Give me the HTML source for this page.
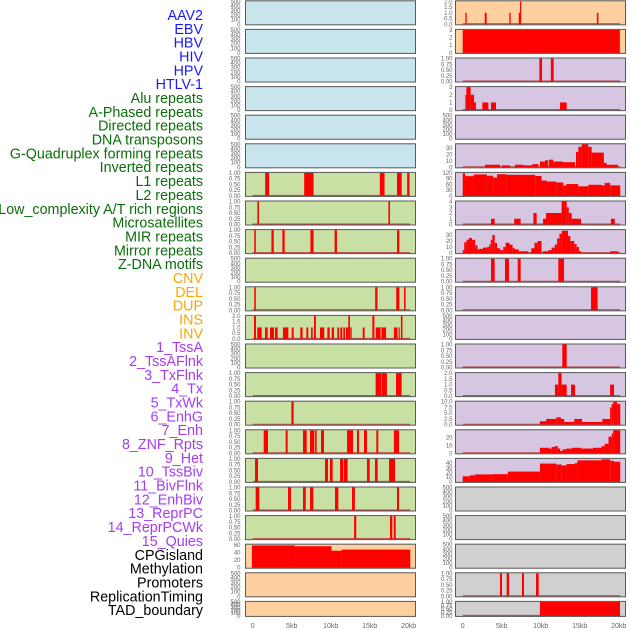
<!DOCTYPE html>
<html><head><meta charset="utf-8">
<style>
html,body{margin:0;padding:0;background:#fff;}
svg{display:block;font-family:"Liberation Sans",Arial,sans-serif;}
</style></head>
<body>
<svg id="chart" width="630" height="630" viewBox="0 0 630 630" xmlns="http://www.w3.org/2000/svg"></svg>
<script>
// ---- track names ----
const trackNames = ["AAV2","EBV","HBV","HIV","HPV","HTLV-1","Alu repeats","A-Phased repeats","Directed repeats","DNA transposons","G-Quadruplex forming repeats","Inverted repeats","L1 repeats","L2 repeats","Low_complexity A/T rich regions","Microsatellites","MIR repeats","Mirror repeats","Z-DNA motifs","CNV","DEL","DUP","INS","INV","1_TssA","2_TssAFlnk","3_TxFlnk","4_Tx","5_TxWk","6_EnhG","7_Enh","8_ZNF_Rpts","9_Het","10_TssBiv","11_BivFlnk","12_EnhBiv","13_ReprPC","14_ReprPCWk","15_Quies","CPGisland","Methylation","Promoters","ReplicationTiming","TAD_boundary"];
const trackGroups = ["virus","virus","virus","virus","virus","virus","repeat","repeat","repeat","repeat","repeat","repeat","repeat","repeat","repeat","repeat","repeat","repeat","repeat","sv","sv","sv","sv","sv","state","state","state","state","state","state","state","state","state","state","state","state","state","state","state","other","other","other","other","other"];
// ---- tick label arrays ----
const ticks500 = [0,100,200,300,400,500];
const ticks01 = [0,0.25,0.5,0.75,1];
const ticks2 = [0,0.5,1,1.5,2];
const ticks3 = [0,1,2,3];
const ticks4 = [0,1,2,3,4];
const ticks30 = [0,10,20,30];
const ticks120 = [0,30,60,90,120];
const ticks10 = [0,2.5,5,7.5,10];
const ticks20 = [0,10,20];
const ticks40 = [0,10,20,30,40];
const ticks60 = [0,20,40,60];
const xTickValues = [0,5,10,15,20];
const xTickLabels = ["0","5kb","10kb","15kb","20kb"];
// ---- segments [startKb, endKb, value] ----
const segEmpty = [];
const segAlu = [[1.6,2.1,1],[6.6,7.8,1],[16.3,16.9,1],[18.5,19.1,1],[19.8,20.1,1]];
const segAPhased = [[0.6,0.8,1],[17.4,17.6,1]];
const segDirected = [[0.2,0.4,1],[2.4,2.7,1],[3.8,4.1,1],[7.4,7.8,1],[10.5,10.8,1],[18.5,18.8,1]];
const segGQuad = [[0.2,0.4,1],[15.7,16.0,1],[18.4,18.8,1],[19.4,19.6,1]];
const segInverted = [[0.17,0.42,2],[0.59,1.15,1],[1.58,1.92,1],[2.22,2.73,1],[2.86,3.2,1],[3.88,4.57,1],[5.0,5.25,1],[6.1,6.4,1],[6.88,7.13,1],[7.48,7.69,1],[7.86,8.1,2],[8.63,9.18,1],[9.57,9.87,1],[10.13,10.43,1],[10.85,11.07,1],[11.23,11.49,1],[11.62,11.83,1],[11.96,12.26,1],[12.26,12.47,2],[12.51,12.69,1],[14.1,14.35,1],[15.34,15.6,2],[15.77,16.4,1],[16.5,17.1,1],[18.1,18.55,1],[18.7,18.85,1],[19.0,19.2,2]];
const segL2 = [[15.76,16.45,1],[16.5,17.2,1],[18.37,19.09,1]];
const segLowComplex = [[4.96,5.25,1]];
const segMicro = [[1.41,1.96,1],[4.23,4.48,1],[6.45,6.92,1],[7.35,7.9,1],[8.0,8.2,1],[8.76,9.14,1],[12.1,12.86,1],[13.37,13.63,1],[14.27,14.65,1],[15.85,16.1,1],[18.1,18.76,1]];
const segMIR = [[0.3,0.68,1],[9.27,9.65,1],[9.9,10.25,1],[11.2,11.62,1],[11.7,12.17,1],[14.65,15.0,1],[15.68,16.02,1],[17.48,18.25,1]];
const segMirror = [[0.38,0.85,1],[4.53,4.91,1],[6.45,6.8,1],[7.35,7.77,1],[10.55,10.98,1],[12.73,13.1,1],[18.5,18.76,1]];
const segZDNA = [[13.0,13.28,1],[17.6,17.9,1],[18.08,18.33,1]];
const segCNV = [[-0.1,5.43,59],[5.43,10.1,57],[10.1,11.4,45],[11.4,20.2,48]];
const segINS = [[0.34,0.51,1],[2.82,3.07,1],[5.98,6.15,1],[7.18,7.35,1],[7.35,7.5,2],[17.2,17.4,1]];
const segINV = [[0,20.15,3]];
const segTssA = [[9.83,10.17,1],[11.3,11.66,1]];
const segTssAFlnk = [[0.34,0.47,2],[0.47,1.02,3],[1.02,1.45,2],[1.45,1.7,1],[2.52,3.29,1],[3.63,4.27,1],[12.47,13.33,1]];
const segTx = [[2.86,4.78,4],[5.0,6.06,3],[6.7,7.77,4],[7.77,8.93,3],[8.93,9.7,5],[9.91,10.55,9],[10.55,10.97,11],[11.06,11.6,12],[11.6,12.9,9],[12.9,14.4,8],[14.52,14.82,24],[14.82,15.25,32],[15.25,16.1,36],[16.1,16.53,32],[16.53,18.1,23],[18.1,18.46,7],[18.46,19.9,4]];
const segTxWk = [[0,0.3,118],[0.3,1.4,103],[1.4,3.1,112],[3.1,3.9,105],[3.9,4.4,95],[4.4,5.6,113],[5.6,9.3,110],[9.3,10.1,104],[10.1,10.8,80],[10.8,12.0,75],[12.0,12.9,70],[12.9,13.3,55],[13.3,14.8,62],[14.8,16.1,50],[16.1,17.8,58],[17.8,18.2,55],[18.2,18.9,68],[18.9,20.2,55]];
const segEnhG = [[3.63,4.1,1],[6.6,7.43,1],[9.06,9.48,2],[10.3,10.68,1],[10.68,12.68,2],[12.68,13.33,4],[13.33,13.6,3],[13.6,13.97,2],[13.97,15.17,1],[19.0,19.5,1]];
const segEnh = [[0,0.2,5],[0.2,0.5,18],[0.5,0.8,22],[0.8,1.2,25],[1.2,1.6,22],[1.6,1.9,13],[1.9,2.1,6],[2.1,2.6,7],[2.6,3.1,9],[3.1,3.4,10],[3.4,3.6,14],[3.6,3.8,22],[3.8,4.1,30],[4.1,4.4,17],[4.4,4.8,8],[4.8,5.2,5],[5.2,5.5,10],[5.5,6.0,17],[6.0,6.4,14],[6.4,6.7,8],[6.7,7.2,6],[7.2,8.4,3],[8.8,9.2,8],[9.2,9.6,17],[9.6,10.1,20],[10.3,11.0,3],[11.0,11.4,5],[11.4,11.8,9],[11.8,12.1,14],[12.1,12.4,24],[12.4,12.7,32],[12.7,13.5,37],[13.5,13.8,28],[13.8,14.3,20],[14.3,14.6,15],[14.6,14.9,10],[14.9,15.2,3],[18.9,19.9,3]];
const segZNF = [[3.63,4.1,1],[5.42,5.93,1],[7.05,7.43,1],[12.26,12.99,1]];
const segHet = [[16.45,17.3,1]];
const segBivFlnk = [[12.77,13.33,1]];
const segEnhBiv = [[11.83,12.26,1],[12.26,12.68,2],[12.68,13.33,1],[13.89,14.4,1],[18.9,19.4,1]];
const segReprPC = [[9.9,10.7,1.5],[10.7,12.0,2.5],[12.0,12.6,3.2],[12.6,13.0,2.5],[13.0,14.3,1.2],[14.3,15.3,2.5],[15.3,17.9,1.2],[17.9,18.9,2.5],[18.9,19.1,7.5],[19.1,19.3,9],[19.3,19.8,10],[19.8,20.2,9]];
const segReprPCWk = [[9.9,11.0,7],[11.0,11.4,6],[11.4,11.8,8],[11.8,12.2,9],[12.2,12.5,6],[12.5,12.8,3],[12.8,13.3,5],[13.3,14.0,6],[14.0,15.2,7],[15.2,16.7,6],[16.7,17.8,7],[17.8,18.2,9],[18.2,18.7,12],[18.7,19.1,21],[19.1,19.3,25],[19.3,20.2,29]];
const segQuies = [[0,0.9,12],[0.9,1.6,14],[1.6,3.8,16],[3.8,5.8,16.5],[5.8,9.9,22],[9.9,12.0,39],[12.0,12.7,37],[12.7,13.3,35],[13.3,14.4,38],[14.4,14.7,40],[14.7,17.8,46],[17.8,18.9,48],[18.9,19.4,45],[19.4,20.2,43]];
const segRepTiming = [[4.78,5.04,1],[5.64,5.94,1],[7.6,7.86,1],[9.4,9.74,1]];
const segTAD = [[9.9,20.17,1]];

const NS="http://www.w3.org/2000/svg";
const svg=document.getElementById('chart');
function mk(tag,attrs,parent){const e=document.createElementNS(NS,tag);for(const k in attrs)e.setAttribute(k,attrs[k]);(parent||svg).appendChild(e);return e;}

const BLUE="#c8e4ec",GREEN="#c8e0a4",ORANGE="#ffd09f",PURPLE="#d6c6e2",GRAY="#d0d0d0";
const panels=[
 [segEmpty,ticks500,500,BLUE,0],[segEmpty,ticks500,500,BLUE,0],[segEmpty,ticks500,500,BLUE,0],[segEmpty,ticks500,500,BLUE,0],[segEmpty,ticks500,500,BLUE,0],[segEmpty,ticks500,500,BLUE,0],
 [segAlu,ticks01,1,GREEN,2],[segAPhased,ticks01,1,GREEN,2],[segDirected,ticks01,1,GREEN,2],[segEmpty,ticks500,500,GREEN,0],[segGQuad,ticks01,1,GREEN,2],[segInverted,ticks2,2,GREEN,1],[segEmpty,ticks500,500,GREEN,0],[segL2,ticks01,1,GREEN,2],[segLowComplex,ticks01,1,GREEN,2],[segMicro,ticks01,1,GREEN,2],[segMIR,ticks01,1,GREEN,2],[segMirror,ticks01,1,GREEN,2],[segZDNA,ticks01,1,GREEN,2],
 [segCNV,ticks60,61,ORANGE,0],[segEmpty,ticks500,500,ORANGE,0],[segEmpty,ticks500,500,ORANGE,0],
 [segINS,ticks2,2,ORANGE,1],[segINV,ticks3,3,ORANGE,0],
 [segTssA,ticks01,1,PURPLE,2],[segTssAFlnk,ticks3,3,PURPLE,0],[segEmpty,ticks500,500,PURPLE,0],[segTx,ticks30,36,PURPLE,0],[segTxWk,ticks120,120,PURPLE,0],[segEnhG,ticks4,4,PURPLE,0],[segEnh,ticks30,38,PURPLE,0],[segZNF,ticks01,1,PURPLE,2],[segHet,ticks01,1,PURPLE,2],[segEmpty,ticks500,500,PURPLE,0],[segBivFlnk,ticks01,1,PURPLE,2],[segEnhBiv,ticks2,2,PURPLE,1],[segReprPC,ticks10,10,PURPLE,1],[segReprPCWk,ticks20,29,PURPLE,0],[segQuies,ticks40,49,PURPLE,0],
 [segEmpty,ticks500,500,GRAY,0],[segEmpty,ticks500,500,GRAY,0],[segEmpty,ticks500,500,GRAY,0],[segRepTiming,ticks01,1,GRAY,2],[segTAD,ticks01,1,GRAY,2]
];
const groupColor={virus:"#1a1aff",repeat:"#0a6e0a",sv:"#ffa500",state:"#a63cf0",other:"#000"};

trackNames.forEach((n,i)=>{
  const t=mk('text',{x:203,y:(20+i*13.84).toFixed(2),'text-anchor':'end','font-size':14.3,fill:groupColor[trackGroups[i]]});
  
  
  t.textContent=n;
});

const colX=[245,455], panelW=171, x0Off=7.7, kbPx=7.8;
function xScale(col,kb){return colX[col]+x0Off+kb*kbPx;}

panels.forEach((p,idx)=>{
  const col=idx<22?0:1, row=idx%22;
  const top=0.3+row*28.6, h=row===21?16:25;
  const [seg,ticks,max,bg,dec]=p;
  const g=mk('g',{});
  
  
  mk('rect',{x:colX[col],y:top,width:panelW,height:h,fill:bg},g);
  const yS=v=>top+1+(1-v/max)*(h-2);
  if(seg.length){
    const bl=mk('line',{x1:xScale(col,0),x2:xScale(col,20.2),y1:yS(0)-0.5,y2:yS(0)-0.5,stroke:'#b84040','stroke-width':1},g);
    
    
  }
  seg.forEach(s=>{
    const x1=xScale(col,Math.max(s[0],-0.1)),x2=xScale(col,s[1]);
    const r=mk('rect',{x:x1.toFixed(2),y:yS(s[2]).toFixed(2),width:Math.max(1,x2-x1).toFixed(2),height:(yS(0)-yS(s[2])).toFixed(2),fill:'#ff0000'},g);
    
    
  });
  mk('rect',{x:colX[col]+0.5,y:top+0.5,width:panelW-1,height:h-1,fill:'none',stroke:'#5a5a5a','stroke-width':1},g);
  const tx=col===0?240.5:452.5;
  ticks.forEach(t=>{
    const tl=mk('text',{x:tx,y:(yS(t)+2).toFixed(2),'text-anchor':'end','font-size':6,fill:'#666'},g);
    
    
    tl.textContent=t.toFixed(dec);
  });
});

[0,1].forEach(col=>{
  xTickValues.forEach((v,i)=>{
    const t=mk('text',{x:xScale(col,v).toFixed(2),y:628,'text-anchor':'middle','font-size':7,fill:'#666'});
    
    
    t.textContent=xTickLabels[i];
  });
});
</script>
</body></html>
